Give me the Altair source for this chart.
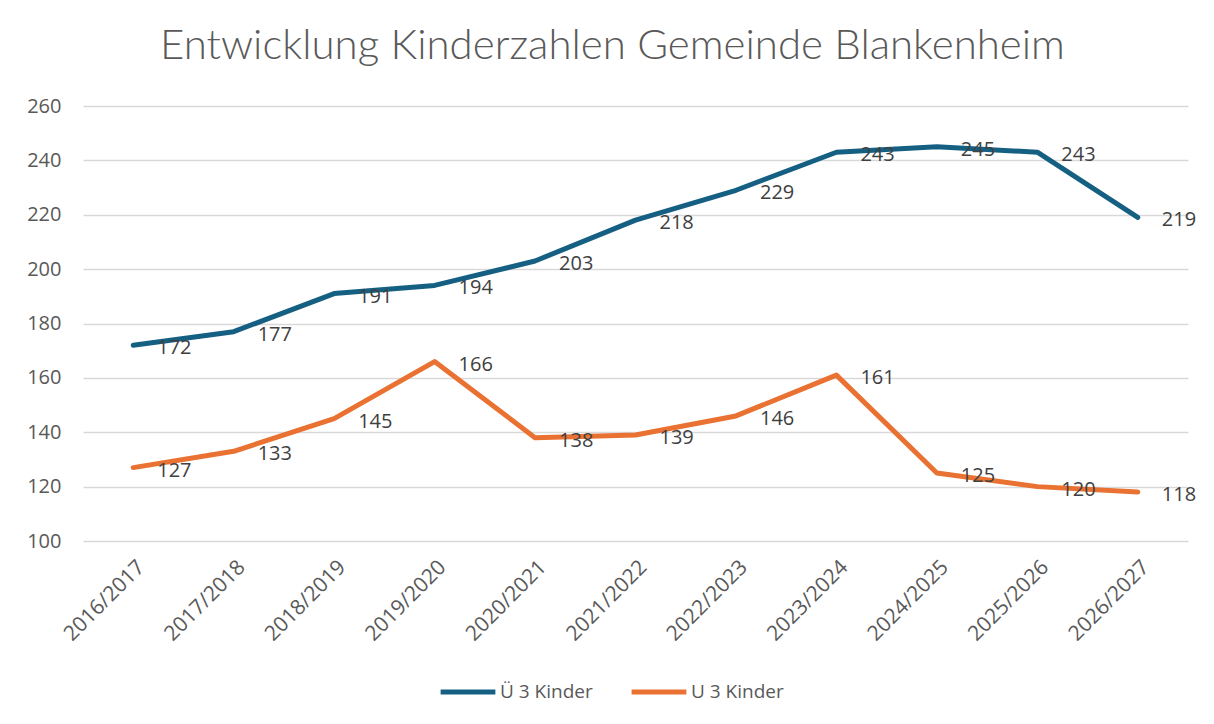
import altair as alt
import pandas as pd

years = ["2016/2017", "2017/2018", "2018/2019", "2019/2020", "2020/2021", "2021/2022",
         "2022/2023", "2023/2024", "2024/2025", "2025/2026", "2026/2027"]
ue3 = [172, 177, 191, 194, 203, 218, 229, 243, 245, 243, 219]
u3 = [127, 133, 145, 166, 138, 139, 146, 161, 125, 120, 118]
series = ["Ü 3 Kinder", "U 3 Kinder"]
colors = ["#156082", "#E97132"]

rows = []
for i, y in enumerate(years):
    rows.append({"Jahr": y, "Serie": series[0], "Wert": ue3[i], "o": 0})
    rows.append({"Jahr": y, "Serie": series[1], "Wert": u3[i], "o": 1})
df = pd.DataFrame(rows)

FONT = "Open Sans"

x = alt.X("Jahr:N", sort=years, title=None,
          axis=alt.Axis(labelAngle=-45, labelFontSize=21, labelColor="#595959",
                        labelFont=FONT, ticks=False, domain=False, grid=False,
                        labelPadding=15))
y = alt.Y("Wert:Q", title=None,
          scale=alt.Scale(domain=[100, 260], nice=False, zero=False),
          axis=alt.Axis(values=list(range(100, 261, 20)), labelFontSize=20,
                        labelColor="#595959", labelFont=FONT, ticks=False, domain=False,
                        gridColor="#D9D9D9", gridWidth=1.5, labelPadding=22))
color = alt.Color("Serie:N", sort=series,
                  scale=alt.Scale(domain=series, range=colors),
                  legend=alt.Legend(title=None, orient="none", direction="horizontal",
                                    legendX=355, legendY=556, symbolType="stroke",
                                    symbolSize=3000, symbolStrokeWidth=5,
                                    labelFontSize=19, labelColor="#595959",
                                    labelFont=FONT, columnPadding=28, labelOffset=2))

base = alt.Chart(df)
lines = base.mark_line(strokeWidth=5, strokeCap="round", strokeJoin="round").encode(
    x=x, y=y, color=color, detail="Serie:N", order="o:Q")
labels = base.mark_text(align="left", baseline="middle", dx=24, dy=3,
                        fontSize=20, color="#404040", font=FONT).encode(
    x=alt.X("Jahr:N", sort=years), y="Wert:Q", text="Wert:Q")

chart = alt.layer(lines, labels).properties(
    width=1105, height=435,
    autosize=alt.AutoSizeParams(type="none"),
    padding={"left": 75, "top": 98, "right": 18, "bottom": 175},
    title=alt.Title("Entwicklung Kinderzahlen Gemeinde Blankenheim", fontSize=42,
                    font="Lato", fontWeight=300, color="#595959", offset=28,
                    anchor="middle", dx=-23),
).configure_view(stroke=None)

chart.save("out.html", embed_options={"renderer": "svg", "actions": False})
